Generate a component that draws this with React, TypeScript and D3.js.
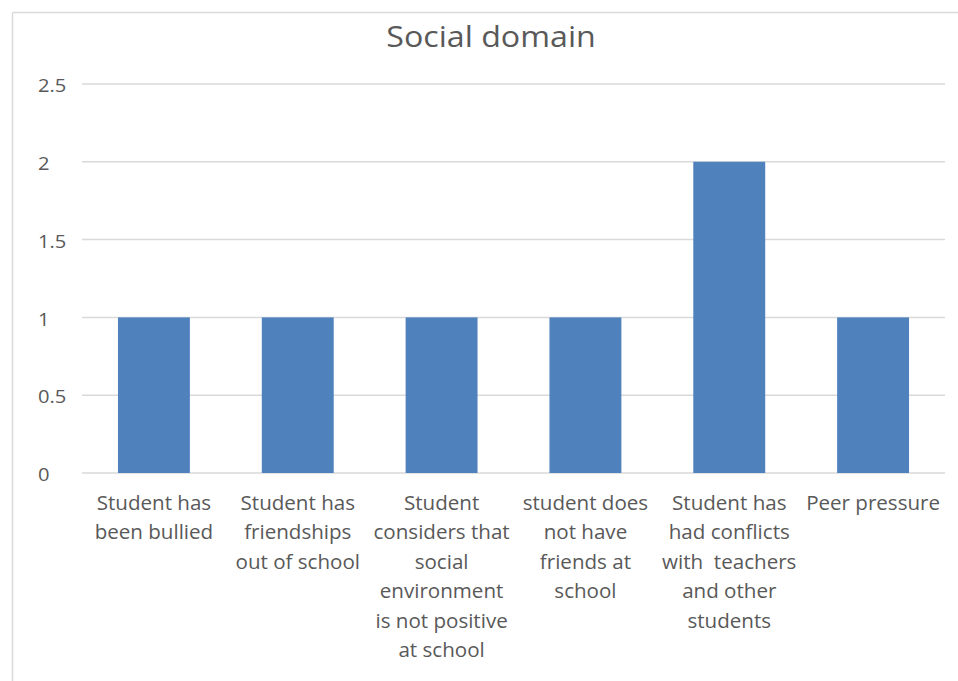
import React from "react";
import * as d3 from "d3";

const categories: string[][] = [
  ["Student has", "been bullied"],
  ["Student has", "friendships", "out of school"],
  ["Student", "considers that", "social", "environment", "is not positive", "at school"],
  ["student does", "not have", "friends at", "school"],
  ["Student has", "had conflicts", "with  teachers", "and other", "students"],
  ["Peer pressure"],
];
const values: number[] = [1, 1, 1, 1, 2, 1];
const yTicks: number[] = [0, 0.5, 1, 1.5, 2, 2.5];
const title = "Social domain";

const W = 958;
const H = 681;
const left = 82;
const right = 945;
const top = 84;
const bottom = 473;
const FONT = "'Open Sans', Lato, sans-serif";

export default function App() {
  const x = d3
    .scaleBand<number>()
    .domain(values.map((_, i) => i))
    .range([left, right])
    .paddingInner(0.5)
    .paddingOuter(0.25);
  const y = d3.scaleLinear().domain([0, 2.5]).range([bottom, top]);

  return (
    <svg
      width={W}
      height={H}
      style={{ position: "absolute", left: 0, top: 0, background: "#fff" }}
    >
      <line x1={12.5} y1={12.5} x2={W} y2={12.5} stroke="#d9d9d9" strokeWidth={1.5} />
      <line x1={12.5} y1={12.5} x2={12.5} y2={H} stroke="#d9d9d9" strokeWidth={1.5} />
      <text
        transform="translate(491,46.5) scale(1.13,1)"
        textAnchor="middle"
        fontFamily={FONT}
        fontSize={28.5}
        fill="#595959"
      >
        {title}
      </text>
      {yTicks.map((t) => (
        <g key={t}>
          <line
            x1={left}
            x2={right}
            y1={y(t)}
            y2={y(t)}
            stroke="#d9d9d9"
            strokeWidth={1.5}
          />
          <text
            transform={`translate(38,${y(t)}) scale(1.12,1)`}
            dy="0.45em"
            fontFamily={FONT}
            fontSize={18}
            fill="#595959"
          >
            {t}
          </text>
        </g>
      ))}
      {values.map((v, i) => (
        <rect
          key={i}
          x={x(i)}
          y={y(v)}
          width={x.bandwidth()}
          height={y(0) - y(v)}
          fill="#4f81bd"
        />
      ))}
      {categories.map((lines, i) => (
        <text
          key={i}
          transform={`translate(${(x(i) as number) + x.bandwidth() / 2},0) scale(1.05,1)`}
          textAnchor="middle"
          fontFamily={FONT}
          fontSize={19.6}
          fill="#595959"
        >
          {lines.map((ln, j) => (
            <tspan
              key={j}
              x={0}
              y={510 + j * 29.5}
              style={{ whiteSpace: "pre" }}
            >
              {ln}
            </tspan>
          ))}
        </text>
      ))}
    </svg>
  );
}
